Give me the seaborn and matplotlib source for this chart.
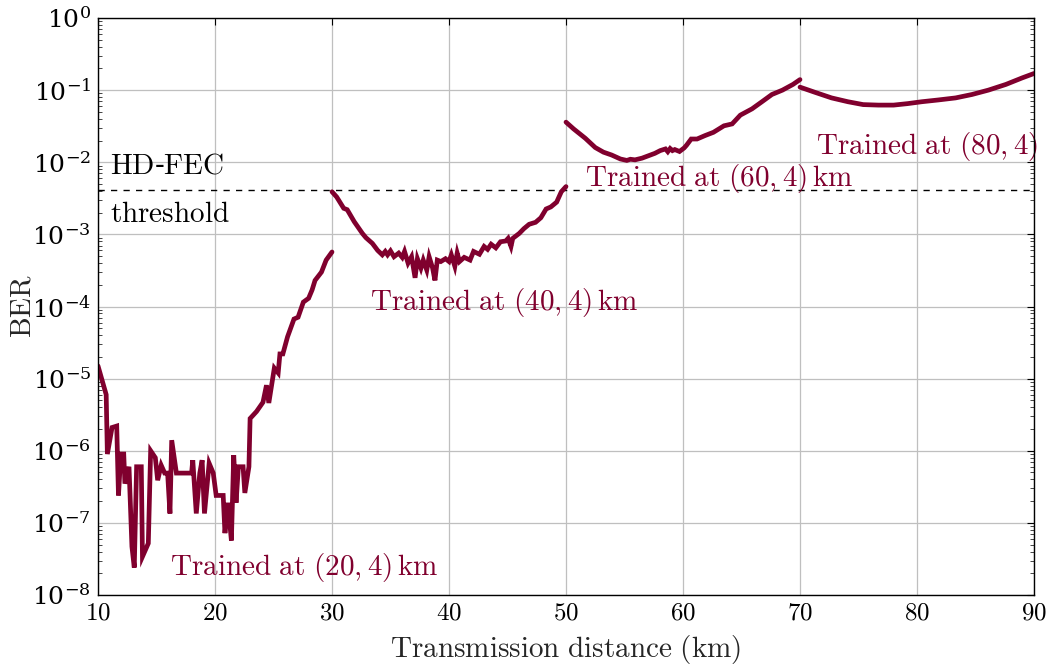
import numpy as np
import pandas as pd
import matplotlib
matplotlib.use("Agg")
import matplotlib.pyplot as plt
import seaborn as sns
from matplotlib.ticker import LogLocator, LogFormatterMathtext, NullFormatter, FixedLocator

# BER versus distance for four models, each trained at a different distance
dist_20 = [10.0, 10.7, 10.8, 11.2, 11.6, 11.75, 11.95, 12.2, 12.3, 12.65, 12.9, 13.1, 13.3, 13.7,
           13.8, 14.3, 14.5, 14.9, 15.1, 15.4, 15.7, 15.95, 16.15, 16.3, 16.7, 18.0, 18.1, 18.4,
           18.7, 18.9, 19.1, 19.5, 19.85, 20.1, 20.7, 20.85, 21.1, 21.4, 21.6, 21.8, 22.0, 22.4,
           22.55, 22.9, 23.0, 23.55, 24.1, 24.4, 24.6, 25.07, 25.4, 25.55, 25.8, 26.2, 26.75,
           27.1, 27.55, 28.0, 28.3, 28.55, 29.1, 29.5, 30.0]
ber_20 = [1.5e-5, 6e-6, 9e-7, 2.1e-6, 2.2e-6, 2.4e-7, 9e-7, 9e-7, 3.5e-7, 6e-7, 4.7e-8, 2.4e-8,
          6e-7, 6e-7, 3.4e-8, 5.2e-8, 1e-6, 8e-7, 3.9e-7, 6.3e-7, 4.9e-7, 4.9e-7, 1.35e-7,
          1.4e-6, 4.9e-7, 4.9e-7, 7.4e-7, 1.35e-7, 4.9e-7, 7.4e-7, 1.35e-7, 6.7e-7, 4.9e-7,
          2.4e-7, 2.4e-7, 7.2e-8, 1.9e-7, 5.7e-8, 8.7e-7, 1.9e-7, 6e-7, 6e-7, 2.6e-7, 6e-7,
          2.8e-6, 3.5e-6, 4.7e-6, 8.1e-6, 4.6e-6, 1.4e-5, 1.2e-5, 2.2e-5, 2.2e-5, 3.8e-5,
          6.7e-5, 7.1e-5, 1.15e-4, 1.3e-4, 1.7e-4, 2.3e-4, 3.0e-4, 4.4e-4, 5.7e-4]

dist_40 = [30.0, 30.4, 31.0, 31.3, 31.9, 32.6, 32.9, 33.45, 33.9, 34.3, 34.55, 34.75, 35.0, 35.3,
           35.7, 36.0, 36.2, 36.5, 36.8, 37.1, 37.3, 37.6, 37.8, 38.1, 38.3, 38.6, 38.8, 39.0,
           39.3, 39.7, 40.0, 40.2, 40.5, 40.7, 40.9, 41.3, 41.8, 42.1, 42.6, 43.0, 43.3, 43.6,
           44.0, 44.4, 44.85, 45.05, 45.3, 45.45, 46.0, 46.4, 46.85, 47.4, 47.85, 48.3, 48.7,
           49.2, 49.6, 50.0]
ber_40 = [3.9e-3, 3.3e-3, 2.3e-3, 2.2e-3, 1.5e-3, 1.03e-3, 9e-4, 7.5e-4, 6e-4, 5.2e-4, 5.8e-4,
          5.2e-4, 5.9e-4, 4.9e-4, 5.5e-4, 4.8e-4, 5.8e-4, 4.0e-4, 4.9e-4, 2.5e-4, 4.6e-4,
          3.4e-4, 4.4e-4, 3.2e-4, 4.9e-4, 3.4e-4, 2.3e-4, 4.4e-4, 4.2e-4, 4.6e-4, 4.2e-4,
          5.2e-4, 3.6e-4, 5.5e-4, 4.2e-4, 4.8e-4, 4.4e-4, 5.8e-4, 5.3e-4, 6.8e-4, 6.2e-4,
          7.3e-4, 6.5e-4, 7.9e-4, 8.1e-4, 8.8e-4, 6.8e-4, 8.8e-4, 1.03e-3, 1.2e-3, 1.38e-3,
          1.47e-3, 1.7e-3, 2.25e-3, 2.4e-3, 2.8e-3, 3.9e-3, 4.6e-3]

dist_60 = [50.0, 50.65, 51.65, 52.5, 53.2, 53.9, 54.65, 55.2, 55.5, 55.9, 56.5, 57.1, 57.6, 58.05,
           58.5, 58.7, 58.9, 59.1, 59.3, 59.7, 60.1, 60.3, 60.7, 61.2, 61.9, 62.6, 63.5, 64.2,
           64.9, 65.9, 66.8, 67.6, 68.5, 69.4, 70.0]
ber_60 = [3.6e-2, 2.9e-2, 2.15e-2, 1.6e-2, 1.38e-2, 1.26e-2, 1.11e-2, 1.06e-2, 1.1e-2, 1.08e-2,
          1.14e-2, 1.24e-2, 1.33e-2, 1.45e-2, 1.53e-2, 1.4e-2, 1.55e-2, 1.45e-2, 1.5e-2, 1.41e-2,
          1.58e-2, 1.72e-2, 2.1e-2, 2.1e-2, 2.35e-2, 2.6e-2, 3.2e-2, 3.4e-2, 4.5e-2, 5.5e-2,
          7.0e-2, 8.7e-2, 0.1, 0.12, 0.14]

dist_80 = [70.0, 71.3, 72.7, 74.1, 75.4, 76.7, 78.0, 79.2, 80.4, 81.8, 83.3, 84.7, 86.1, 87.6,
           89.0, 90.0]
ber_80 = [0.11, 0.093, 0.078, 0.069, 0.063, 0.062, 0.062, 0.065, 0.069, 0.073, 0.078, 0.087,
          0.1, 0.12, 0.148, 0.17]

fec_threshold = 4.1e-3
x_ticks = [10, 20, 30, 40, 50, 60, 70, 80, 90]

curves = [(dist_20, ber_20), (dist_40, ber_40), (dist_60, ber_60), (dist_80, ber_80)]

sns.set_theme(style="white")
plt.rcParams["font.family"] = ["DejaVu Serif"]
plt.rcParams["mathtext.fontset"] = "cm"

line_color = "#80002E"

fig = plt.figure(figsize=(10.56, 6.64), dpi=100)
ax = fig.add_axes([98 / 1056, 1 - 595 / 664, (1034 - 98) / 1056, (595 - 18) / 664])

for d, b in curves:
    df = pd.DataFrame({"distance": d, "ber": b})
    sns.lineplot(data=df, x="distance", y="ber", ax=ax, color=line_color, lw=3.4,
                 estimator=None, sort=False, solid_joinstyle="miter", zorder=3)

ax.set_yscale("log")
ax.set_xlim(10, 90)
ax.set_ylim(1e-8, 1e0)

ax.axhline(fec_threshold, color="black", lw=1.0, ls=(0, (4.5, 4.5)), zorder=2)

# grid and ticks in pgfplots style
ax.xaxis.set_major_locator(FixedLocator(x_ticks))
ax.yaxis.set_major_locator(LogLocator(base=10, numticks=20))
ax.yaxis.set_minor_locator(LogLocator(base=10, subs=np.arange(2, 10), numticks=20))
ax.yaxis.set_major_formatter(LogFormatterMathtext())
ax.yaxis.set_minor_formatter(NullFormatter())
ax.grid(True, which="major", color="#bfbfbf", lw=0.9, zorder=0)
ax.tick_params(axis="both", which="major", direction="in", length=5, width=0.8,
               top=True, right=True, labelsize=18, colors="black", pad=5)
ax.tick_params(axis="y", which="minor", direction="in", length=3, width=0.6,
               left=True, right=True)
ax.tick_params(axis="x", which="minor", bottom=False, top=False)
ax.set_xticklabels([f"${t}$" for t in x_ticks])
for s in ax.spines.values():
    s.set_color("black")
    s.set_linewidth(1.0)
    s.set_zorder(5)

ax.set_xlabel(r"$\mathrm{Transmission\ distance\ (km)}$", fontsize=21)
ax.set_ylabel(r"$\mathrm{BER}$", fontsize=21)
ax.xaxis.set_label_coords(0.5, -0.066)
ax.yaxis.set_label_coords(-0.066, 0.5)

# annotations
lab_kw = dict(color=line_color, fontsize=21, va="center", zorder=4)
ax.text(16.15, 10 ** -7.62, r"$\mathrm{Trained\ at\ }(20,4)\,\mathrm{km}$", ha="left", **lab_kw)
ax.text(33.25, 10 ** -3.94, r"$\mathrm{Trained\ at\ }(40,4)\,\mathrm{km}$", ha="left", **lab_kw)
ax.text(51.6, 10 ** -2.22, r"$\mathrm{Trained\ at\ }(60,4)\,\mathrm{km}$", ha="left", **lab_kw)
ax.text(90.35, 10 ** -1.78, r"$\mathrm{Trained\ at\ }(80,4)$", ha="right", clip_on=False, **lab_kw)
ax.text(11.0, 10 ** -2.04, r"$\mathrm{HD}$-$\mathrm{FEC}$", ha="left", color="black",
        fontsize=21, va="center", zorder=4)
ax.text(11.0, 10 ** -2.72, r"$\mathrm{threshold}$", ha="left", color="black",
        fontsize=21, va="center", zorder=4)

fig.savefig("out.png", dpi=100)
